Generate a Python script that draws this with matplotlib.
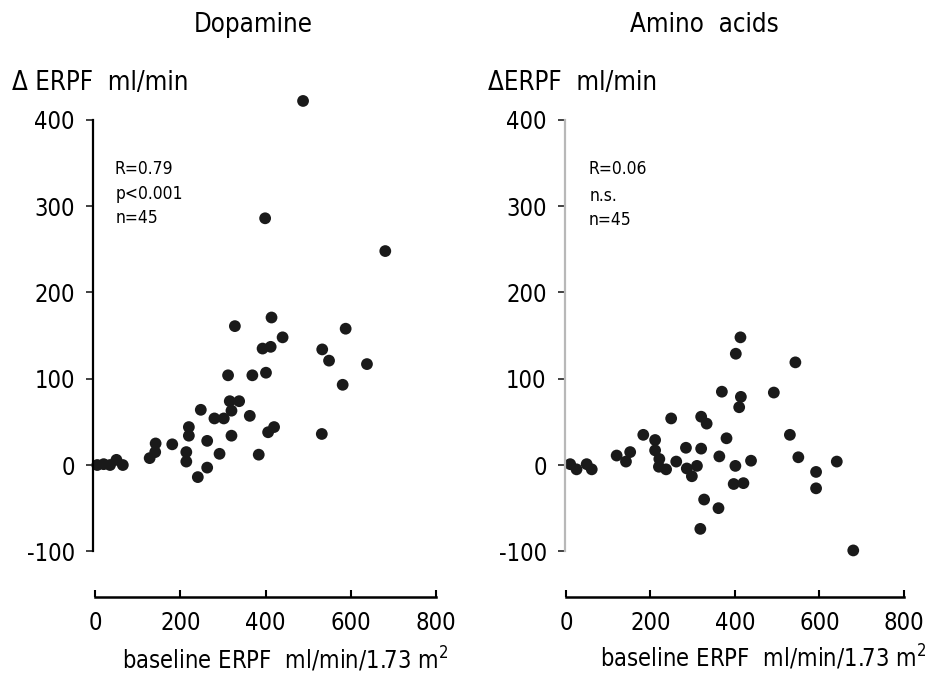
import numpy as np
import matplotlib.pyplot as plt

plt.rcParams['font.family'] = ['DejaVu Sans']
plt.rcParams['font.stretch'] = 'condensed'
plt.rcParams['axes.unicode_minus'] = False

# Dopamine: baseline ERPF vs delta ERPF
dopa_x = [5, 20, 35, 50, 65,
          488, 399, 681, 414, 328, 588, 440, 412, 393, 533, 549, 638, 401, 312,
          369, 581, 316, 338, 320, 248, 280, 302, 363, 420, 406, 532, 220, 220,
          320, 181, 263, 142, 141, 128, 214, 214, 292, 384, 263, 241]
dopa_y = [0, 1, 0, 6, 0,
          422, 286, 248, 171, 161, 158, 148, 137, 135, 134, 121, 117, 107, 104,
          104, 93, 74, 74, 63, 64, 54, 54, 57, 44, 38, 36, 44, 34,
          34, 24, 28, 25, 15, 8, 15, 4, 13, 12, -3, -14]

# Amino acids: baseline ERPF vs delta ERPF
amino_x = [10, 25, 49, 61,
           413, 402, 543, 369, 492, 414, 410, 249, 320, 333, 183, 530, 211, 211,
           380, 284, 320, 363, 550, 438, 641, 120, 152, 142, 221, 220, 237, 261,
           286, 298, 310, 401, 592, 592, 397, 420, 327, 361, 318, 680]
amino_y = [1, -5, 1, -5,
           148, 129, 119, 85, 84, 79, 67, 54, 56, 48, 35, 35, 29, 17,
           31, 20, 19, 10, 9, 5, 4, 11, 15, 4, 7, -2, -5, 4,
           -4, -13, -1, -1, -8, -27, -22, -21, -40, -50, -74, -99]

xticks = [0, 200, 400, 600, 800]
yticks = [-100, 0, 100, 200, 300, 400]

fig = plt.figure(figsize=(9.3, 6.86), dpi=100)
ax1 = fig.add_axes([0.1, 0.1297, 0.3688, 0.7332])
ax2 = fig.add_axes([0.6072, 0.1297, 0.3648, 0.7332])


def style(ax, xmin, ycolor):
    ax.set_xlim(xmin, 800)
    ax.set_ylim(-153, 430)
    for s in ['top', 'right']:
        ax.spines[s].set_visible(False)
    ax.spines['left'].set_bounds(-100, 400)
    ax.spines['left'].set_color(ycolor)
    ax.spines['left'].set_linewidth(1.6)
    ax.spines['bottom'].set_bounds(0, 800)
    ax.spines['bottom'].set_linewidth(1.8)
    ax.set_xticks(xticks)
    ax.set_yticks(yticks)
    ax.tick_params(axis='x', direction='in', length=5, width=1.5,
                   labelsize=17, pad=10)
    ax.tick_params(axis='y', direction='out', length=5, width=1.3,
                   labelsize=17, pad=8, color='#333333')


ax1.scatter(dopa_x, dopa_y, s=72, color='#1a1a1a', edgecolors='none',
            clip_on=False)
style(ax1, -5, 'black')
ax1.text(45, 343, 'R=0.79', fontsize=12.5, va='center')
ax1.text(48, 314, 'p<0.001', fontsize=12.5, va='center')
ax1.text(48, 286, 'n=45', fontsize=12.5, va='center')

ax2.scatter(amino_x, amino_y, s=72, color='#1a1a1a', edgecolors='none',
            clip_on=False)
style(ax2, -3, '#b8b8b8')
ax2.text(53, 343, 'R=0.06', fontsize=12.5, va='center')
ax2.text(55, 312, 'n.s.', fontsize=12.5, va='center')
ax2.text(53, 284, 'n=45', fontsize=12.5, va='center')

fig.text(0.272, 0.964, 'Dopamine', fontsize=18.5, ha='center', va='center')
fig.text(0.757, 0.964, 'Amino  acids', fontsize=18.5, ha='center', va='center')
fig.text(0.013, 0.879, '\u0394 ERPF  ml/min', fontsize=18.5, va='center')
fig.text(0.525, 0.879, '\u0394ERPF  ml/min', fontsize=18.5, va='center')
fig.text(0.3065, 0.038, 'baseline ERPF  ml/min/1.73 m$^2$', fontsize=17,
         ha='center', va='center')
fig.text(0.821, 0.042, 'baseline ERPF  ml/min/1.73 m$^2$', fontsize=17,
         ha='center', va='center')

plt.savefig('out.png', dpi=100)
